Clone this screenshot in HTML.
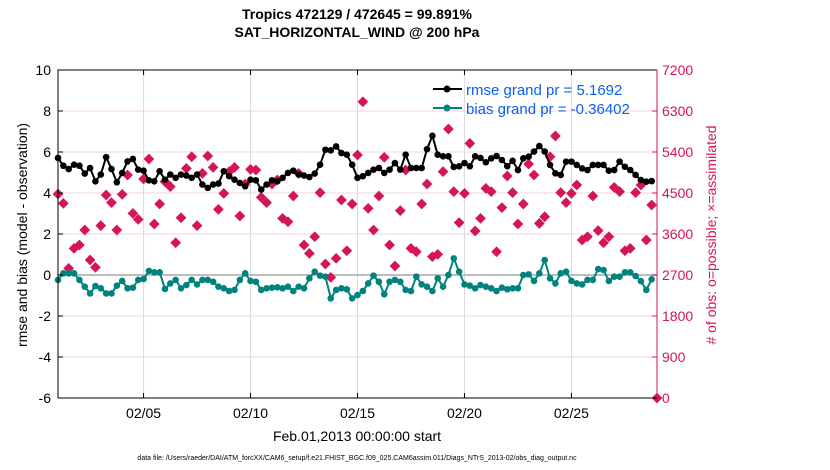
<!DOCTYPE html>
<html><head><meta charset="utf-8"><style>
body{margin:0;background:#fff;}
svg{display:block;font-family:"Liberation Sans",Arial,sans-serif;}
</style></head><body>
<svg id="chart" width="830" height="470" xmlns="http://www.w3.org/2000/svg">
<text x="357" y="19" text-anchor="middle" font-size="14" font-weight="bold">Tropics 472129 / 472645 = 99.891%</text>
<text x="357" y="37" text-anchor="middle" font-size="14" font-weight="bold">SAT_HORIZONTAL_WIND @ 200 hPa</text>
<text transform="translate(27,235) rotate(-90)" text-anchor="middle" font-size="14">rmse and bias (model - observation)</text>
<text transform="translate(716,235) rotate(-90)" text-anchor="middle" font-size="14" fill="#d6145a"># of obs: o=possible; ×=assimilated</text>
<text x="357" y="441" text-anchor="middle" font-size="14">Feb.01,2013 00:00:00 start</text>
<text x="357" y="460" text-anchor="middle" font-size="7">data file: /Users/raeder/DAI/ATM_forcXX/CAM6_setup/f.e21.FHIST_BGC.f09_025.CAM6assim.011/Diags_NTrS_2013-02/obs_diag_output.nc</text>
<g id="grid"></g><g id="marks"></g><g id="axes"></g>
<g>
<line x1="433" y1="89" x2="462" y2="89" stroke="#000" stroke-width="2"/><circle cx="447" cy="89" r="3.5" fill="#000"/>
<text x="466" y="95" font-size="15" fill="#0b5ff0">rmse grand pr = 5.1692</text>
<line x1="433" y1="108" x2="462" y2="108" stroke="#00827f" stroke-width="2"/><circle cx="447" cy="108" r="3.5" fill="#00827f"/>
<text x="466" y="114" font-size="15" fill="#0b5ff0">bias grand pr = -0.36402</text>
</g>
</svg>
<script>
const rmse=[5.71,5.33,5.17,5.38,5.33,4.95,5.22,4.57,4.90,5.75,5.17,4.52,4.98,5.54,5.66,5.14,5.09,4.62,4.57,5.06,4.65,4.90,4.74,4.90,4.85,4.74,4.90,4.41,
4.25,4.41,4.46,5.06,4.82,4.65,4.49,4.33,4.65,4.62,4.17,4.41,4.62,4.57,4.74,4.98,5.09,4.90,4.85,4.78,4.95,5.38,6.11,6.08,6.27,5.95,
5.87,5.38,4.74,4.82,4.98,5.14,5.22,4.98,5.14,5.46,5.14,5.87,5.22,5.22,5.22,6.14,6.79,5.87,5.79,5.79,5.27,5.30,5.46,5.30,5.79,5.71,5.50,
5.69,5.80,5.61,5.31,5.57,5.12,5.69,5.77,6.02,6.29,6.02,5.37,4.96,4.88,5.53,5.53,5.37,5.20,5.12,5.37,5.37,5.37,5.09,5.12,5.53,5.28,
5.12,4.88,4.63,4.55,4.58];
const bias=[-0.24,0.08,0.08,0.08,-0.24,-0.57,-0.90,-0.54,-0.65,-0.90,-0.90,-0.52,-0.29,-0.65,-0.62,-0.24,-0.20,0.20,0.13,0.13,-0.68,-0.41,-0.24,-0.65,-0.49,-0.24,-0.46,-0.24,-0.24,-0.33,-0.57,-0.65,-0.78,-0.73,-0.24,0.08,-0.29,-0.33,-0.73,-0.65,-0.62,-0.60,-0.65,-0.57,-0.78,-0.57,-0.65,-0.16,0.16,-0.03,-0.08,-1.14,-0.73,-0.65,-0.70,
-1.14,-0.98,-0.78,-0.41,-0.03,-0.33,-0.94,-0.33,-0.24,-0.33,-0.73,-0.78,-0.08,-0.46,-0.57,-0.78,-0.16,-0.57,0.00,0.81,0.16,-0.46,-0.52,-0.65,-0.49,-0.57,-0.65,-0.78,-0.62,-0.70,-0.65,-0.65,0.00,0.03,-0.29,0.08,0.73,-0.16,-0.41,0.08,0.16,-0.29,-0.41,-0.46,-0.24,-0.24,0.29,0.24,-0.29,-0.08,-0.08,0.13,0.13,
-0.05,-0.30,-0.73,-0.21];
const nobs=[4478,4273,2846,3285,3358,3688,3029,2868,3783,4456,4288,3688,4471,4895,4054,3922,4807,5246,3819,4258,4749,4639,3409,3958,5041,5297,3783,4932,
5312,5063,4141,4493,4968,5063,3995,4697,5019,5005,4405,4288,4697,4785,3944,3870,4434,4932,3358,3175,3541,4507,2941,2649,3066,4346,3233,
4258,5334,6504,4163,3688,4434,5283,3358,2897,4112,5005,3285,3211,4258,4697,3102,3153,4968,5904,4529,3849,4493,5590,3665,3944,4602,4529,
3211,4178,4873,4507,3819,4258,5136,4895,3834,3980,5297,5751,4507,4288,4493,4675,3468,3541,4434,3673,3409,3541,4624,4529,3233,3285,
4507,4675,3468,4236,0];
const leftTicks=[-6,-4,-2,0,2,4,6,8,10];
const rightTicks=[0,900,1800,2700,3600,4500,5400,6300,7200];
const xTickDays=[4,9,14,19,24];
const xTickLabels=["02/05","02/10","02/15","02/20","02/25"];
const stepDays=0.25;
const xMaxDays=28;

const L=58,R=657,T=70,B=398;
const xs=d=>L+(Math.min(d,xMaxDays)/xMaxDays)*(R-L);
const yl=v=>B-(v+6)/16*(B-T);
const yr=v=>B-v/7200*(B-T);
const NS="http://www.w3.org/2000/svg";
function mk(tag,attrs,parent){const e=document.createElementNS(NS,tag);for(const k in attrs)e.setAttribute(k,attrs[k]);parent.appendChild(e);return e;}
const grid=document.getElementById('grid'),marks=document.getElementById('marks'),axes=document.getElementById('axes');
leftTicks.forEach(v=>{
  if(v!==0&&v!==10&&v!==-6){const g=mk('line',{x1:L,x2:R,y1:yl(v),y2:yl(v),stroke:'#f5d3df','stroke-width':1},grid);
  
  }
  mk('line',{x1:L,x2:L+5,y1:yl(v),y2:yl(v),stroke:'#000'},axes);
  const t=mk('text',{x:L-7,y:yl(v)+5,'text-anchor':'end','font-size':14},axes);t.textContent=v;
  
  
});
xTickDays.forEach((d,i)=>{
  const g=mk('line',{x1:xs(d),x2:xs(d),y1:T,y2:B,stroke:'#dcdcdc'},grid);
  
  
  mk('line',{x1:xs(d),x2:xs(d),y1:B,y2:B-5,stroke:'#000'},axes);
  mk('line',{x1:xs(d),x2:xs(d),y1:T,y2:T+5,stroke:'#000'},axes);
  const t=mk('text',{x:xs(d),y:B+20,'text-anchor':'middle','font-size':14},axes);t.textContent=xTickLabels[i];
  
  
});
const zl=mk('line',{x1:L,x2:R,y1:yl(0),y2:yl(0),stroke:'#bdbdbd','stroke-width':2},grid);


rightTicks.forEach(v=>{
  mk('line',{x1:R,x2:R-5,y1:yr(v),y2:yr(v),stroke:'#d6145a'},axes);
  const t=mk('text',{x:R+5,y:yr(v)+5,'font-size':14,fill:'#d6145a'},axes);t.textContent=v;
  
  
});
nobs.forEach((v,i)=>{const x=xs(i*stepDays),y=yr(v);
  const p=mk('rect',{x:x-3.8,y:y-3.8,width:7.6,height:7.6,fill:'#d6145a',transform:`rotate(45 ${x} ${y})`},marks);
  
  
});
function series(arr,col,name){
  const pts=arr.map((v,i)=>xs(i*stepDays).toFixed(1)+','+yl(v).toFixed(1)).join(' ');
  const pl=mk('polyline',{points:pts,fill:'none',stroke:col,'stroke-width':2},marks);
  
  
  arr.forEach((v,i)=>{const c=mk('circle',{cx:xs(i*stepDays),cy:yl(v),r:3.3,fill:col},marks);
    
    });
}
series(bias,'#00827f','bias');
series(rmse,'#000','rmse');
mk('path',{d:`M${L},${B} L${L},${T} L${R},${T}`,fill:'none',stroke:'#000','stroke-width':1},axes);
mk('line',{x1:L,x2:R,y1:B,y2:B,stroke:'#000'},axes);
mk('line',{x1:R,x2:R,y1:T,y2:B,stroke:'#d6145a'},axes);
</script>
</body></html>
